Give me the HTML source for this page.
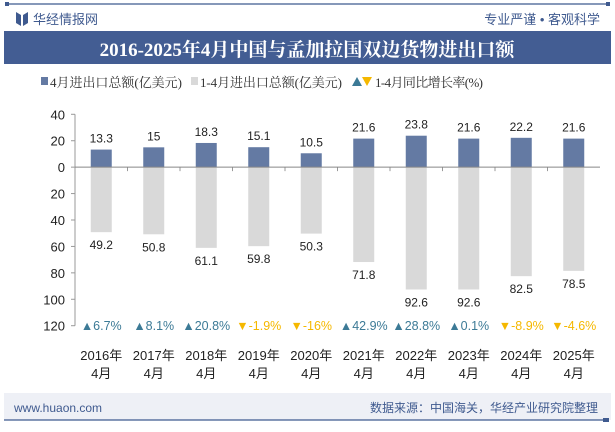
<!DOCTYPE html>
<html><head><meta charset="utf-8">
<style>
body{margin:0;width:615px;height:427px;background:#fff;overflow:hidden;font-family:"Liberation Sans","Noto Sans CJK SC",sans-serif;}
</style></head>
<body>
<svg id="c" width="615" height="427" xmlns="http://www.w3.org/2000/svg" font-family="Liberation Sans, Noto Sans CJK SC, sans-serif">
<line x1="8" y1="4" x2="607" y2="4" stroke="#3f5a8f" stroke-width="1.2"/>
<rect x="5" y="2" width="4" height="4" fill="#3f5a8f"/><rect x="606" y="2" width="4" height="4" fill="#3f5a8f"/>
<g><path d="M16 12 L21 15 L21 26 L16 23 Z M23 15 L28 12 L28 23 L23 26 Z" fill="#3f5a8f"/>
<text x="33" y="24" font-size="13" fill="#3f5a8f">华经情报网</text></g>
<text x="600" y="24" font-size="13" fill="#3f5a8f" text-anchor="end">专业严谨 • 客观科学</text>
<rect x="4" y="31" width="607" height="33" fill="#435d93"/>
<text x="307" y="56" font-size="19" font-weight="bold" fill="#fff" text-anchor="middle" font-family="Liberation Serif, Noto Serif CJK SC, serif">2016-2025年4月中国与孟加拉国双边货物进出口额</text>
<g font-size="13" fill="#333" font-family="Liberation Serif, Noto Serif CJK SC, serif">
<rect x="41" y="77" width="7" height="8" fill="#647aa3"/><text x="50" y="87" textLength="132">4月进出口总额(亿美元)</text>
<rect x="191" y="77" width="7" height="8" fill="#d9d9d9"/><text x="200" y="87" textLength="142">1-4月进出口总额(亿美元)</text>
<path d="M352 86 L357 77 L362 86Z" fill="#3c7a96"/><path d="M362 77 L372 77 L367 86Z" fill="#f5b800"/>
<text x="375" y="87" textLength="108">1-4月同比增长率(%)</text></g>
<g id="plot"></g>
<rect x="4" y="393" width="607" height="27" fill="#eef0f6"/>
<line x1="4" y1="420" x2="607" y2="420" stroke="#3f5a8f" stroke-width="1.2"/>
<rect x="603" y="418" width="6" height="4" fill="#3f5a8f"/>
<text x="14" y="412" font-size="12" fill="#3f5a8f">www.huaon.com</text>
<text x="598" y="412" font-size="12" fill="#3f5a8f" text-anchor="end">数据来源：中国海关，华经产业研究院整理</text>
</svg>
<script>
const categories=["2016年","2017年","2018年","2019年","2020年","2021年","2022年","2023年","2024年","2025年"];
const aprilValues=[13.3,15,18.3,15.1,10.5,21.6,23.8,21.6,22.2,21.6];
const cumValues=[49.2,50.8,61.1,59.8,50.3,71.8,92.6,92.6,82.5,78.5];
const growthValues=[6.7,8.1,20.8,-1.9,-16,42.9,28.8,0.1,-8.9,-4.6];
const tickLabels=["40","20","0","20","40","60","80","100","120"];
const tickValues=[40,20,0,-20,-40,-60,-80,-100,-120];
const NS="http://www.w3.org/2000/svg";
const g=document.getElementById('plot');
const x0=75,x1=600,yTop=114.3,yBot=325.7,vMax=40,vMin=-120;
const y=v=>yTop+(vMax-v)/(vMax-vMin)*(yBot-yTop);
const bw=(x1-x0)/categories.length;
const cx=i=>x0+bw*(i+0.5);
function mk(t,a){const e=document.createElementNS(NS,t);for(const k in a)e.setAttribute(k,a[k]);g.appendChild(e);return e;}
tickValues.forEach((v,i)=>{
 const t=mk('text',{x:x0-10,y:y(v)+5,'font-size':13,fill:'#222','text-anchor':'end'});t.textContent=tickLabels[i];
 
 
 mk('line',{x1:x0-4,y1:y(v),x2:x0,y2:y(v),stroke:'#999'});
});
const ax=mk('line',{x1:x0,y1:yTop,x2:x0,y2:yBot,stroke:'#999'});


categories.forEach((c,i)=>{
 const xc=cx(i),w=21;
 const b1=mk('rect',{x:xc-w/2,y:y(aprilValues[i]),width:w,height:y(0)-y(aprilValues[i]),fill:'#647aa3'});
 
 
 const b2=mk('rect',{x:xc-w/2,y:y(0),width:w,height:y(-cumValues[i])-y(0),fill:'#d9d9d9'});
 
 
 const l1=mk('text',{x:xc,y:y(aprilValues[i])-7,'font-size':12,fill:'#222','text-anchor':'middle'});l1.textContent=aprilValues[i];
 
 
 const l2=mk('text',{x:xc,y:y(-cumValues[i])+17,'font-size':12,fill:'#222','text-anchor':'middle'});l2.textContent=cumValues[i];
 
 
 const up=growthValues[i]>=0;
 const gl=mk('text',{x:xc,y:330,'font-size':12.5,fill:up?'#3c7a96':'#f5b800','text-anchor':'middle'});
 gl.textContent=(up?'▲':'▼')+growthValues[i]+'%';
 
 
 const c1=mk('text',{x:xc,y:360,'font-size':13,fill:'#222','text-anchor':'middle'});c1.textContent=c;
 
 
 const c2=mk('text',{x:xc,y:378,'font-size':13,fill:'#222','text-anchor':'middle'});c2.textContent='4月';
 
 
 if(i>0) mk('line',{x1:x0+bw*i,y1:y(0),x2:x0+bw*i,y2:y(0)+4,stroke:'#999'});
});
const zl=mk('line',{x1:x0,y1:y(0),x2:x1,y2:y(0),stroke:'#888'});


</script>
</body></html>
